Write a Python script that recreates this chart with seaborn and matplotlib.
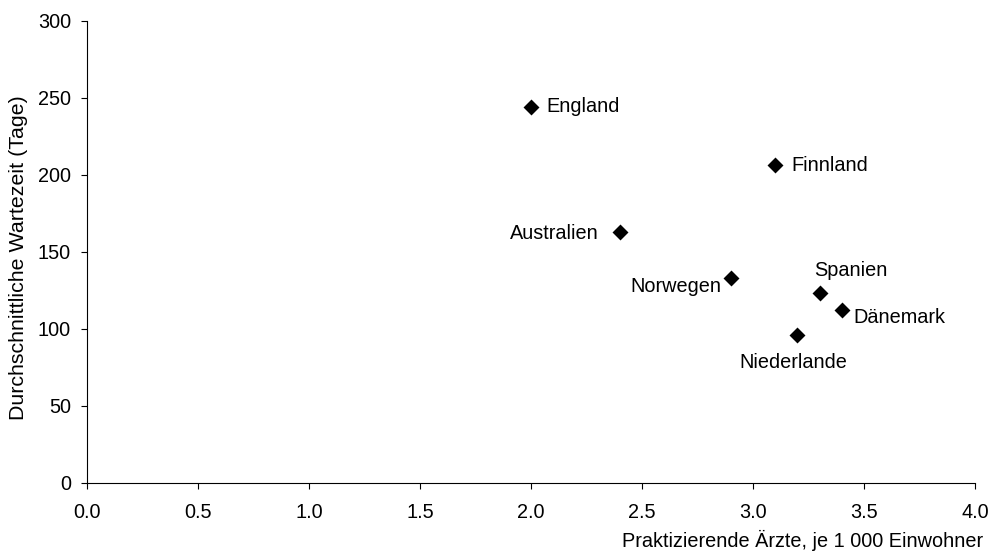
import matplotlib
matplotlib.use("Agg")
import matplotlib.pyplot as plt
import seaborn as sns
import pandas as pd

# Practising physicians per 1,000 inhabitants vs. average waiting time (days)
countries = ["England", "Finnland", "Australien", "Norwegen", "Spanien", "Dänemark", "Niederlande"]
aerzte = [2.0, 3.1, 2.4, 2.9, 3.3, 3.4, 3.2]
wartezeit = [244, 206, 163, 133, 123, 112, 96]
x_ticks = [0.0, 0.5, 1.0, 1.5, 2.0, 2.5, 3.0, 3.5, 4.0]
y_ticks = [0, 50, 100, 150, 200, 250, 300]

# label offsets in points (dx, dy) and horizontal alignment for each country
label_pos = {
    "England": (11, 0, "left"),
    "Finnland": (12, 0, "left"),
    "Australien": (-15, -1, "right"),
    "Norwegen": (-7, -6.5, "right"),
    "Spanien": (-3.6, 16.5, "left"),
    "Dänemark": (8, -5, "left"),
    "Niederlande": (-3, -20, "center"),
}

df = pd.DataFrame({"Land": countries, "Aerzte": aerzte, "Wartezeit": wartezeit})

sns.set_style("ticks")
plt.rcParams["font.family"] = ["Liberation Sans", "DejaVu Sans"]

FS = 14.3

fig = plt.figure(figsize=(9.91, 5.58), dpi=100)
ax = fig.add_axes([87 / 991, 1 - 482.7 / 558, (975 - 87) / 991, (482.7 - 20.7) / 558])

sns.scatterplot(data=df, x="Aerzte", y="Wartezeit", marker="D", s=66,
                color="black", edgecolor="black", linewidth=0, ax=ax, zorder=3)

for land, x, y in zip(countries, aerzte, wartezeit):
    dx, dy, ha = label_pos[land]
    ax.annotate(land, (x, y), xytext=(dx, dy), textcoords="offset points",
                ha=ha, va="center", fontsize=FS, color="black")

ax.set_xlim(0, 4.0)
ax.set_ylim(0, 300)
ax.set_xticks(x_ticks)
ax.set_xticklabels([f"{v:.1f}" for v in x_ticks])
ax.set_yticks(y_ticks)

ax.tick_params(axis="both", direction="out", length=4, width=0.8, labelsize=FS,
               color="black", labelcolor="black")
ax.tick_params(axis="x", pad=10.5)
ax.tick_params(axis="y", pad=7.5)
for side in ("top", "right"):
    ax.spines[side].set_visible(False)
for side in ("left", "bottom"):
    ax.spines[side].set_color("black")
    ax.spines[side].set_linewidth(0.8)

ax.set_xlabel("Praktizierende Ärzte, je 1 000 Einwohner", fontsize=FS, loc="right", color="black")
ax.xaxis.label.set_va("center")
ax.xaxis.set_label_coords(1.009, -0.124)

ax.set_ylabel("Durchschnittliche Wartezeit (Tage)", fontsize=15.4, color="black")
ax.yaxis.label.set_va("center")
ax.yaxis.set_label_coords(-0.0777, 0.4875)

fig.savefig("out.png", dpi=100)
